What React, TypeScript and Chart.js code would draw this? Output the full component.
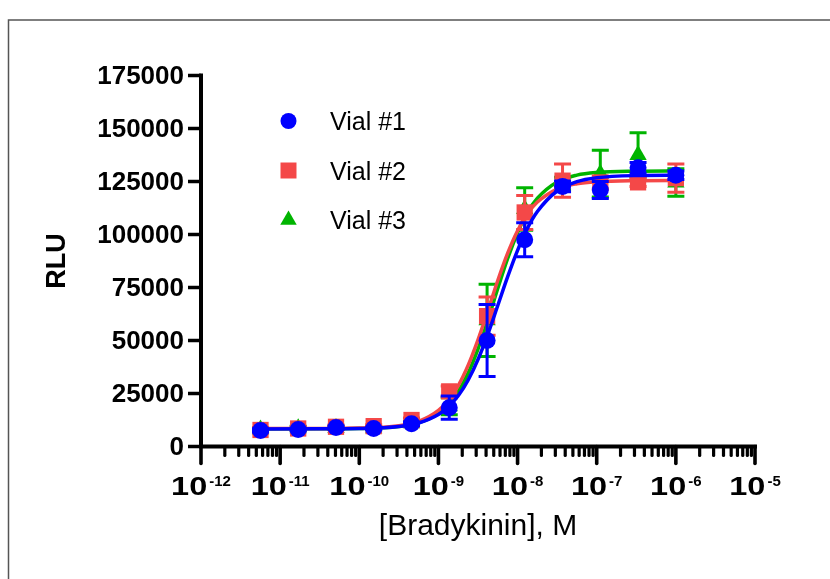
import { useEffect, useRef } from 'react';
import { Chart, registerables } from 'chart.js';

Chart.register(...registerables);

const FONT = '"Liberation Sans", Arial, Helvetica, sans-serif';

// Bradykinin concentrations (M), 3-fold dilutions
const concentrations = [5.65e-12, 1.69e-11, 5.08e-11, 1.52e-10, 4.57e-10, 1.37e-9, 4.12e-9, 1.23e-8, 3.7e-8, 1.11e-7, 3.33e-7, 1.0e-6];

const seriesLabels = ['Vial #1', 'Vial #2', 'Vial #3'];
const seriesColors = ['#0000FF', '#F44848', '#00B400'];
const seriesStyles = ['circle', 'rect', 'triangle'];

const vial1 = [7600, 8000, 9000, 8500, 10700, 18300, 50000, 97500, 122700, 121000, 131500, 128000];
const vial1Err = [800, 600, 700, 600, 800, 5500, 17000, 8000, 2500, 4000, 2500, 2000];
const vial2 = [7800, 8500, 9300, 9600, 12500, 26000, 61500, 110400, 125400, 124500, 124600, 126600];
const vial2Err = [1000, 800, 800, 700, 1000, 2500, 9000, 8000, 7800, 3000, 2000, 6700];
const vial3 = [8000, 8600, 8700, 8600, 11000, 19000, 59500, 112000, 124000, 128700, 137500, 124500];
const vial3Err = [1000, 900, 700, 700, 900, 4000, 17000, 10000, 3000, 11000, 10500, 6500];

// Fitted curves
const curveX = [4.7e-12, 3.16e-11, 1e-10, 3.16e-10, 5.62e-10, 1e-9, 1.33e-9, 1.78e-9, 2.37e-9, 3.16e-9, 4.22e-9, 5.62e-9, 7.5e-9, 1e-8, 1.33e-8, 1.78e-8, 3.16e-8, 5.62e-8, 1e-7, 3.16e-7, 1.17e-6];
const curve1 = [8300, 8330, 8480, 9420, 11080, 15040, 18650, 23910, 31290, 41050, 53050, 66490, 80100, 92540, 102890, 110830, 120520, 124900, 126750, 127800, 127980];
const curve2 = [8500, 8530, 8680, 9780, 11850, 17015, 21790, 28720, 38240, 50300, 64130, 78310, 91220, 101800, 109740, 115300, 121440, 123940, 124910, 125400, 125500];
const curve3 = [8300, 8320, 8450, 9380, 11130, 15520, 19700, 25850, 34530, 45970, 59700, 74490, 88680, 100850, 110310, 117120, 124810, 128000, 129240, 129860, 130000];

const yTicks = [0, 25000, 50000, 75000, 100000, 125000, 150000, 175000];
const xTickExponents = [-12, -11, -10, -9, -8, -7, -6, -5];
const xMinorMultipliers = [2, 3, 4, 5, 6, 7, 8, 9];

const xTitle = '[Bradykinin], M';
const yTitle = 'RLU';

const pointValues = [vial1, vial2, vial3];
const pointErrors = [vial1Err, vial2Err, vial3Err];
const curveValues = [curve1, curve2, curve3];

function drawMarker(ctx: CanvasRenderingContext2D, style: string, x: number, y: number, color: string) {
  ctx.save();
  ctx.fillStyle = color;
  ctx.beginPath();
  if (style === 'circle') {
    ctx.arc(x, y, 8, 0, Math.PI * 2);
  } else if (style === 'rect') {
    ctx.rect(x - 8, y - 8, 16, 16);
  } else {
    const r = 9.5;
    ctx.moveTo(x, y - r);
    ctx.lineTo(x + r * 0.866, y + r * 0.5);
    ctx.lineTo(x - r * 0.866, y + r * 0.5);
    ctx.closePath();
  }
  ctx.fill();
  ctx.restore();
}

const decorPlugin = {
  id: 'decor',
  beforeDatasetDraw(chart: any, args: any) {
    const ds = chart.data.datasets[args.index];
    if (ds.errIndex === undefined) return;
    const errs = pointErrors[ds.errIndex];
    const vals = pointValues[ds.errIndex];
    const xs = chart.scales.x;
    const ys = chart.scales.y;
    const ctx = chart.ctx;
    ctx.save();
    ctx.strokeStyle = ds.backgroundColor;
    ctx.lineWidth = 3;
    for (let i = 0; i < concentrations.length; i++) {
      const px = xs.getPixelForValue(concentrations[i]);
      const top = ys.getPixelForValue(vals[i] + errs[i]);
      const bot = ys.getPixelForValue(vals[i] - errs[i]);
      ctx.beginPath();
      ctx.moveTo(px, top);
      ctx.lineTo(px, bot);
      ctx.moveTo(px - 8.5, top);
      ctx.lineTo(px + 8.5, top);
      ctx.moveTo(px - 8.5, bot);
      ctx.lineTo(px + 8.5, bot);
      ctx.stroke();
    }
    ctx.restore();
  },
  afterDraw(chart: any) {
    const ctx: CanvasRenderingContext2D = chart.ctx;
    const xs = chart.scales.x;
    const ys = chart.scales.y;
    const area = chart.chartArea;
    ctx.save();

    // frame
    ctx.strokeStyle = '#555555';
    ctx.lineWidth = 1.5;
    ctx.strokeRect(8.5, 20, 2000, 2000);

    ctx.strokeStyle = '#000';
    ctx.fillStyle = '#000';
    ctx.lineCap = 'butt';

    // y axis line
    ctx.lineWidth = 4;
    ctx.beginPath();
    ctx.moveTo(area.left, area.top - 2);
    ctx.lineTo(area.left, area.bottom);
    ctx.stroke();
    // x axis line
    ctx.beginPath();
    ctx.moveTo(area.left - 2, area.bottom);
    ctx.lineTo(area.right + 2, area.bottom);
    ctx.stroke();

    // y ticks + labels
    ctx.font = `bold 26px ${FONT}`;
    ctx.textAlign = 'right';
    ctx.textBaseline = 'middle';
    for (const v of yTicks) {
      const py = ys.getPixelForValue(v);
      ctx.lineWidth = 3.5;
      ctx.beginPath();
      ctx.moveTo(area.left, py);
      ctx.lineTo(area.left - 13, py);
      ctx.stroke();
      ctx.fillText(String(v), area.left - 17, py + 1);
    }

    // x minor ticks
    ctx.lineCap = 'round';
    ctx.lineWidth = 3.2;
    for (let e = xTickExponents[0]; e < xTickExponents[xTickExponents.length - 1]; e++) {
      for (const m of xMinorMultipliers) {
        const px = xs.getPixelForValue(m * Math.pow(10, e));
        ctx.beginPath();
        ctx.moveTo(px, area.bottom);
        ctx.lineTo(px, area.bottom + 9);
        ctx.stroke();
      }
    }
    // x major ticks + labels
    ctx.lineWidth = 3.6;
    for (const e of xTickExponents) {
      const px = xs.getPixelForValue(Math.pow(10, e));
      ctx.beginPath();
      ctx.moveTo(px, area.bottom);
      ctx.lineTo(px, area.bottom + 17);
      ctx.stroke();

      const sx = 1.3;
      ctx.font = `bold 25px ${FONT}`;
      const baseW = ctx.measureText('10').width * sx;
      ctx.font = `bold 15px ${FONT}`;
      const sup = String(e);
      const supW = ctx.measureText(sup).width;
      const left = px - (baseW + 2 + supW) / 2;
      ctx.textAlign = 'left';
      ctx.textBaseline = 'alphabetic';
      ctx.save();
      ctx.translate(left, 495);
      ctx.scale(sx, 1);
      ctx.font = `bold 25px ${FONT}`;
      ctx.fillText('10', 0, 0);
      ctx.restore();
      ctx.font = `bold 15px ${FONT}`;
      ctx.fillText(sup, left + baseW + 2, 486);
    }

    // axis titles
    ctx.font = `30px ${FONT}`;
    ctx.textAlign = 'center';
    ctx.textBaseline = 'alphabetic';
    ctx.fillText(xTitle, (area.left + area.right) / 2, 535);

    ctx.save();
    ctx.translate(65, (area.top + area.bottom) / 2);
    ctx.rotate(-Math.PI / 2);
    ctx.font = `bold 27px ${FONT}`;
    ctx.textAlign = 'center';
    ctx.textBaseline = 'alphabetic';
    ctx.fillText(yTitle, 0, 0);
    ctx.restore();

    // legend
    ctx.font = `25px ${FONT}`;
    ctx.textAlign = 'left';
    ctx.textBaseline = 'alphabetic';
    for (let i = 0; i < seriesLabels.length; i++) {
      const cy = 121 + i * 49.5;
      drawMarker(ctx, seriesStyles[i], 288.5, cy, seriesColors[i]);
      ctx.fillStyle = '#000';
      ctx.fillText(seriesLabels[i], 330, cy + 9);
    }

    ctx.restore();
  },
};

export default function App() {
  const ref = useRef<HTMLCanvasElement | null>(null);

  useEffect(() => {
    if (!ref.current) return;
    const datasets: any[] = [];
    for (let s = 0; s < 3; s++) {
      datasets.push({
        label: seriesLabels[s],
        data: concentrations.map((c, i) => ({ x: c, y: pointValues[s][i] })),
        showLine: false,
        pointStyle: seriesStyles[s],
        pointRadius: seriesStyles[s] === 'circle' ? 8.5 : seriesStyles[s] === 'rect' ? 11.5 : 10,
        pointBorderWidth: 0,
        backgroundColor: seriesColors[s],
        borderColor: seriesColors[s],
        errIndex: s,
        order: s * 2,
        clip: false,
      });
      datasets.push({
        label: seriesLabels[s] + ' fit',
        data: curveX.map((c, i) => ({ x: c, y: curveValues[s][i] })),
        showLine: true,
        pointRadius: 0,
        borderWidth: 3.5,
        borderColor: seriesColors[s],
        backgroundColor: seriesColors[s],
        cubicInterpolationMode: 'monotone',
        fill: false,
        order: s * 2 + 1,
        clip: false,
      });
    }
    const chart = new Chart(ref.current, {
      type: 'line',
      data: { datasets },
      options: {
        responsive: false,
        animation: false,
        layout: { padding: { left: 201, right: 75, top: 75.5, bottom: 132.5 } },
        plugins: { legend: { display: false }, tooltip: { enabled: false } },
        scales: {
          x: { type: 'logarithmic', min: 1e-12, max: 1e-5, display: false },
          y: { type: 'linear', min: 0, max: 175000, display: false },
        },
      },
      plugins: [decorPlugin],
    } as any);
    return () => chart.destroy();
  }, []);

  return (
    <div style={{ position: 'fixed', left: 0, top: 0, width: 830, height: 579, background: '#fff' }}>
      <canvas ref={ref} width={830} height={579} style={{ display: 'block' }} />
    </div>
  );
}
